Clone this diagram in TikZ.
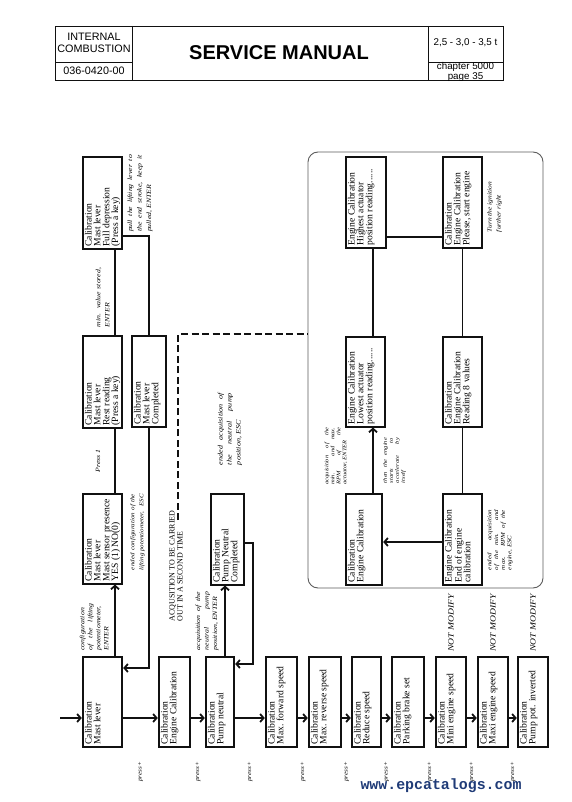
\documentclass[tikz,border=0pt]{standalone}
\usepackage{fontspec}
\setmainfont{Liberation Serif}
\newfontfamily\headfont{Liberation Sans}
\newfontfamily\lblfont[FakeStretch=1.2]{Liberation Serif}
\newfontfamily\wmfont{Liberation Mono}
\usetikzlibrary{arrows.meta,calc,fit}
\definecolor{ink}{HTML}{111111}
\definecolor{framegray}{HTML}{5C5C5C}
\definecolor{wmblue}{HTML}{1F3B77}
\newcommand{\boxfont}{\fontsize{9.6}{8.8}\selectfont}
\newcommand{\lsz}[2]{\lblfont\itshape\fontsize{#1}{#2}\selectfont}
\newcommand{\celltxt}[3]{\parbox[c][\dimexpr#2pt-4pt\relax][t]{\dimexpr#1pt-5pt\relax}{\raggedright#3}}
\tikzset{calbox/.style={draw=ink,line width=1.1pt,rotate=90,inner xsep=2.5pt,inner ysep=2pt,font=\boxfont},thickbox/.style={calbox,line width=2.4pt},ln/.style={draw=ink,line width=1.1pt},arr/.style={ln,-{Straight Barb[length=3.5pt,width=8pt,line width=1.8pt]}}}
\tikzset{lbl/.style={rotate=90,inner sep=0pt,align=justify},prs/.style={rotate=90,inner sep=0pt,font=\lsz{6}{7}},nm/.style={rotate=90,inner sep=0pt,anchor=west,font=\lsz{8}{8}},hd/.style={font=\headfont\fontsize{10.8}{12}\selectfont,align=center,inner sep=0pt},hdr/.style={hd,font=\headfont\fontsize{9.8}{10.5}\selectfont},grpframe/.style={draw=framegray,line width=0.9pt,rounded corners=10pt,inner sep=0pt},dashln/.style={ink,line width=1.1pt,dash pattern=on 7pt off 3.5pt}}
\begin{document}
\begin{tikzpicture}[x=1pt,y=-1pt]
\useasboundingbox (0,0) rectangle (572,802);
\draw[ink,line width=0.9pt] (55,26) rectangle (503,80) (132,26)--(132,80) (428,26)--(428,80) (55,62)--(132,62) (428,62)--(503,62);
\node[hd] (hleft) at (94,43) {INTERNAL\\COMBUSTION};
\node[hd] (hnum) at (94,71) {036-0420-00};
\node[font=\headfont\bfseries\fontsize{20}{24}\selectfont,inner sep=0pt] (title) at (279,53) {SERVICE MANUAL};
\node[hdr] (hton) at (465.5,43) {2,5 - 3,0 - 3,5 t};
\node[hdr] (hpage) at (465.5,72) {chapter 5000\\page 35};

\node[thickbox] (ml) at (102.5,702) {\celltxt{90}{39}{Calibration\\Mast lever}};
\node[thickbox] (ec) at (174.5,702) {\celltxt{90}{31}{Calibration\\Engine Calibration}};
\node[thickbox] (pn) at (220,702) {\celltxt{90}{28}{Calibration\\Pump neutral}};
\node[thickbox] (mf) at (281.5,702) {\celltxt{90}{31}{Calibration\\Max. forward speed}};
\node[thickbox] (mr) at (325,702) {\celltxt{90}{32}{Calibration\\Max. reverse speed}};
\node[thickbox] (rs) at (366.5,702) {\celltxt{90}{29}{Calibration\\Reduce speed}};
\node[thickbox] (pb) at (408,702) {\celltxt{90}{32}{Calibration\\Parking brake set}};
\node[thickbox] (mi) at (451,702) {\celltxt{90}{30}{Calibration\\Mini engine speed}};
\node[thickbox] (mx) at (493,702) {\celltxt{90}{30}{Calibration\\Maxi engine speed}};
\node[thickbox] (pp) at (533,702) {\celltxt{90}{30}{Calibration\\Pump pot. inverted}};

\node[calbox] (ms) at (102.5,539) {\celltxt{90}{39}{Calibration\\Mast lever\\Mast sensor presence\\YES (1) NO(0)}};
\node[calbox] (rr) at (102.5,382) {\celltxt{92}{39}{Calibration\\Mast lever\\Rest reading\\(Press a key)}};
\node[calbox] (fd) at (102.5,203) {\celltxt{92}{39}{Calibration\\Mast lever\\Full depression\\(Press a key)}};
\node[calbox] (mc) at (149,381.5) {\celltxt{91}{34}{Calibration\\Mast lever\\Completed}};
\node[calbox] (pc) at (227.5,539.5) {\celltxt{91}{33}{Calibration\\Pump Neutral\\Completed}};

\node[grpframe,fit={(308,152) (543,588)}] (grp) {};
\node[calbox] (ha) at (366,202.5) {\celltxt{91}{40}{Engine Calibration\\Highest actuator\\position reading......}};
\node[calbox] (se) at (462.5,202.5) {\celltxt{91}{39}{Calibration\\Engine Calibration\\Please, start engine}};
\node[calbox] (la) at (365.5,382) {\celltxt{90}{39}{Engine Calibration\\Lowest actuator\\position reading......}};
\node[calbox] (r8) at (462.5,382) {\celltxt{90}{39}{Calibration\\Engine Calibration\\Reading 8 values}};
\node[thickbox] (ej) at (364,539.5) {\celltxt{91}{36}{Calibration\\Engine Calibration}};
\node[calbox] (ee) at (462.5,539.5) {\celltxt{91}{39}{Engine Calibration\\End of engine\\calibration}};

\coordinate (row) at (0,718); \coordinate (start) at (60,718);
\coordinate (laneA) at (115,0); \coordinate (laneP) at (225,0); \coordinate (laneE) at (373,0);
\coordinate (bendP) at (253,664); \coordinate (dA) at (178,520); \coordinate (dB) at (178,334);
\draw[arr] (start) -- (start -| ml.north);
\foreach \a/\b in {ml/ec,ec/pn,pn/mf,mf/mr,mr/rs,rs/pb,pb/mi,mi/mx,mx/pp}{\draw[arr] (\a.south |- row) -- (\b.north |- row); \node[prs] (p\a) at ($(\a.south)!.5!(\b.north)+(0,70)$) {press+};}
\foreach \b in {mi,mx,pp}{\node[nm] (nm\b) at ($(\b.east)+(0,-4)$) {NOT MODIFY};}

\draw[arr] (ml.east -| laneA) -- (ms.west -| laneA);
\draw[ln] (ms.east -| laneA) -- (rr.west -| laneA);
\draw[ln] (rr.east -| laneA) -- (fd.west -| laneA);
\draw[ln] ([yshift=-33pt]fd.south) -| (mc.east);
\draw[arr] (mc.west) |- ([yshift=34pt]ml.south);
\draw[arr] (pn.east -| laneP) -- (pc.west -| laneP);
\draw[arr] ([yshift=-3.5pt]pc.south) -| (bendP) -- (bendP -| pn.south);
\draw[dashln] (dA) -- (dB) -- (dB -| grp.west);
\draw[ln] ([yshift=-34.5pt]ha.south) -- ([yshift=-34.5pt]ha.south -| se.north);
\draw[ln] (ha.west -| laneE) -- (la.east -| laneE);
\draw[ln] (se.west) -- (r8.east);
\draw[arr] (ej.east -| laneE) -- (la.west -| laneE);
\draw[ln] (r8.west) -- (ee.east);
\draw[arr] ([yshift=-2.5pt]ee.north) -- ([yshift=-2.5pt]ee.north -| ej.south);

\node[lbl,font=\lsz{6.5}{8},text width=47pt] (cfg) at (94,627) {configuration\linebreak of the lifting\linebreak potentiometer,\linebreak ENTER};
\node[lbl,font=\lsz{6.5}{8}] (pr1) at (98,461) {Press 1};
\node[lbl,font=\lsz{6.5}{9},text width=59pt] (mvs) at (102.5,297.5) {min. value stored,\linebreak ENTER};
\node[lbl,font=\lsz{6.5}{9.5},text width=77pt] (pll) at (140,193.5) {pull the lifting lever to\linebreak the end stroke, keep it\linebreak pulled, ENTER};
\node[lbl,font=\lsz{5.8}{9},text width=76pt] (ecf) at (137.5,532) {ended configuration of the\linebreak lifting potentiometer,\hfill ESC};
\node[rotate=90,inner sep=0pt,align=left,font=\fontsize{8}{8}\selectfont] (acq) at (176,566) {ACQUSITION TO BE CARRIED\\OUT IN A SECOND TIME};
\node[lbl,font=\lsz{6.5}{8.5},text width=58pt] (anp) at (207,621) {acquisition of the\linebreak neutral pump\linebreak position, ENTER};
\node[lbl,font=\lsz{6.8}{9},text width=72pt] (ean) at (230,429) {ended acquisition of\linebreak the neutral pump\linebreak position, ESC};
\node[lbl,align=left,font=\lsz{6.2}{9}] (tig) at (494.5,207) {Turn the ignition\\further right};
\node[lbl,font=\lsz{5.4}{6},text width=57pt] (amx) at (336,456) {acquisition of the\linebreak min. and max.\linebreak RPM of the\linebreak actuator, ENTER};
\node[lbl,font=\lsz{5.4}{6},text width=45pt] (eng) at (394.5,460.5) {then the engine\linebreak starts to\linebreak accelerate by\linebreak itself};
\node[lbl,font=\lsz{5.8}{6.7},text width=60pt] (emx) at (500,540) {ended acquisition\linebreak of the min. and\linebreak max. RPM of the\linebreak engine, ESC};

\node[font=\wmfont\bfseries\fontsize{14.9}{16}\selectfont,text=wmblue,inner sep=0pt] (wmark) at (441,786) {www.epcatalogs.com};
\end{tikzpicture}
\end{document}
